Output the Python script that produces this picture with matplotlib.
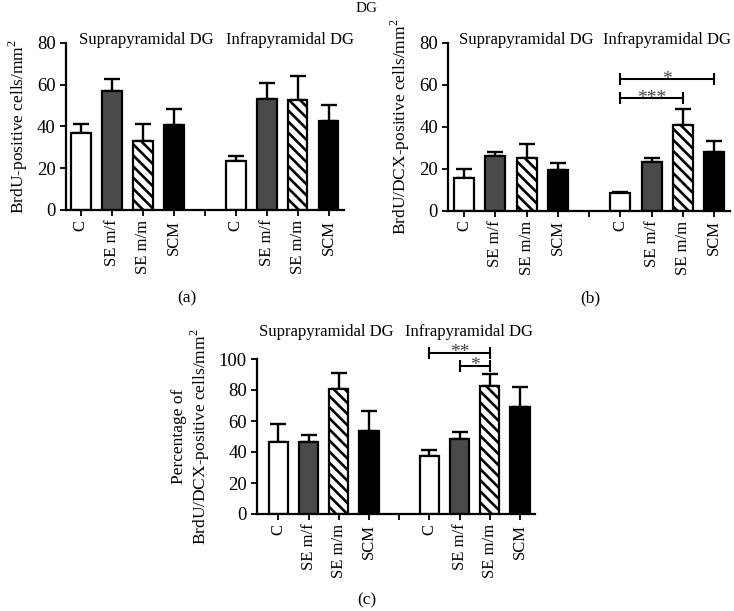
import numpy as np
import matplotlib
matplotlib.use("Agg")
import matplotlib.pyplot as plt

plt.rcParams['font.family'] = ['Liberation Serif', 'DejaVu Serif']
plt.rcParams['hatch.linewidth'] = 1.9
plt.rcParams['mathtext.fontset'] = 'custom'
plt.rcParams['mathtext.rm'] = 'Liberation Serif'

# categories and positions (gap at 4 between the two regions)
groups = ['C', 'SE m/f', 'SE m/m', 'SCM']
xpos = [0, 1, 2, 3, 5, 6, 7, 8]
tick_labels = groups + groups

# (a) BrdU-positive cells/mm2
a_mean = [36.8, 57.0, 33.0, 40.5, 23.6, 53.3, 52.6, 42.4]
a_err = [4.2, 5.5, 8.0, 8.0, 2.4, 7.2, 11.4, 7.6]
# (b) BrdU/DCX-positive cells/mm2
b_mean = [15.7, 26.2, 25.2, 19.4, 8.3, 23.0, 40.8, 27.8]
b_err = [4.0, 1.8, 6.5, 3.5, 0.5, 2.2, 7.4, 5.5]
# (c) percentage
c_mean = [46.7, 46.7, 80.6, 53.8, 37.4, 48.2, 82.8, 68.8]
c_err = [11.3, 4.3, 10.2, 12.7, 3.9, 4.8, 7.7, 13.2]

faces = ['white', '#4a4a4a', 'white', 'black'] * 2
hatches = ['', '', '\\\\\\', ''] * 2

W, H = 734, 611
fig = plt.figure(figsize=(W / 100, H / 100), dpi=100)


def px_axes(left, right, top, bottom):
    return fig.add_axes([left / W, 1 - bottom / H, (right - left) / W, (bottom - top) / H])


def draw_panel(ax, mean, err, ymax, xlim):
    for x, m, e, fc, h in zip(xpos, mean, err, faces, hatches):
        ax.errorbar(x, m, yerr=[[0], [e]], color='black', lw=1.7,
                    capsize=5.5, capthick=1.7, zorder=1)
        ax.bar(x, m, width=0.64, color=fc, edgecolor='black', linewidth=1.6,
               hatch=h, zorder=2)
    ax.set_xlim(*xlim)
    ax.set_ylim(0, ymax)
    ax.set_xticks(xpos + [4])
    ax.set_xticklabels(tick_labels + [''], rotation=90)
    ax.spines['top'].set_visible(False)
    ax.spines['right'].set_visible(False)
    for s in ['left', 'bottom']:
        ax.spines[s].set_linewidth(1.6)
    ax.tick_params(axis='both', width=1.3, length=4, labelsize=13.5)
    ax.tick_params(axis='x', labelsize=12, pad=3)


def bracket(ax, x1, x2, y, stars):
    ax.plot([x1, x2], [y, y], color='black', lw=1.5, marker='|',
            markersize=8, markeredgewidth=1.5, clip_on=False, zorder=3)
    ax.annotate(stars, ((x1 + x2) / 2, y), xytext=(0, -3),
                textcoords='offset points', ha='center', va='baseline',
                fontsize=14, color='#444444', annotation_clip=False)


# (a)
ax1 = px_axes(66, 344, 42.7, 210)
draw_panel(ax1, a_mean, a_err, 80, (-0.48, 8.5))
ax1.set_yticks([0, 20, 40, 60, 80])
ax1.set_ylabel('BrdU-positive cells/mm$^2$', fontsize=12.5, labelpad=5)
ax1.text(2.13, 1.015, 'Suprapyramidal DG', transform=ax1.get_xaxis_transform(),
         ha='center', va='center', fontsize=12)
ax1.text(6.74, 1.015, 'Infrapyramidal DG', transform=ax1.get_xaxis_transform(),
         ha='center', va='center', fontsize=12)

# (b)
ax2 = px_axes(448.3, 730, 42.7, 210.7)
draw_panel(ax2, b_mean, b_err, 80, (-0.5, 8.5))
ax2.set_yticks([0, 20, 40, 60, 80])
ax2.set_ylabel('BrdU/DCX-positive cells/mm$^2$', fontsize=12.5, labelpad=5)
ax2.text(2.0, 1.015, 'Suprapyramidal DG', transform=ax2.get_xaxis_transform(),
         ha='center', va='center', fontsize=12)
ax2.text(6.5, 1.015, 'Infrapyramidal DG', transform=ax2.get_xaxis_transform(),
         ha='center', va='center', fontsize=12)
bracket(ax2, 5, 8, 62.5, '*')
bracket(ax2, 5, 7, 53.5, '***')

# (c)
ax3 = px_axes(257.3, 535, 359, 514)
draw_panel(ax3, c_mean, c_err, 100, (-0.7, 8.5))
ax3.set_yticks([0, 20, 40, 60, 80, 100])
ax3.set_ylabel('Percentage of\nBrdU/DCX-positive cells/mm$^2$', fontsize=12.5,
               labelpad=5, linespacing=1.1)
ax3.text(1.57, 1.174, 'Suprapyramidal DG', transform=ax3.get_xaxis_transform(),
         ha='center', va='center', fontsize=12)
ax3.text(6.32, 1.174, 'Infrapyramidal DG', transform=ax3.get_xaxis_transform(),
         ha='center', va='center', fontsize=12)
bracket(ax3, 5, 7, 103.7, '**')
bracket(ax3, 6, 7, 95.7, '*')

# panel letters and top title
fig.text(187 / W, 1 - 298 / H, '(a)', ha='center', va='center', fontsize=12.5)
fig.text(590 / W, 1 - 298 / H, '(b)', ha='center', va='center', fontsize=12.5)
fig.text(367 / W, 1 - 600 / H, '(c)', ha='center', va='center', fontsize=12.5)
fig.text(367 / W, 1 - 8 / H, 'DG', ha='center', va='center', fontsize=11)

fig.savefig('out.png', dpi=100)
